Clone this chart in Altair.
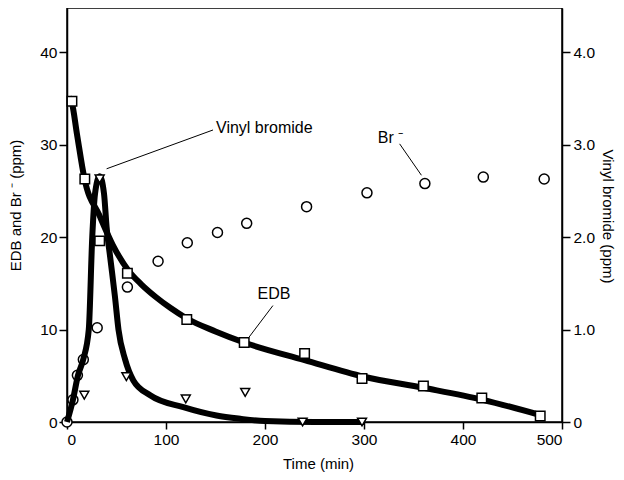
import altair as alt
import pandas as pd

# EDB measured points (ppm, left axis)
EDB_T = [5, 18, 33, 61, 121, 179, 240, 298, 360, 419, 478]
EDB_V = [34.7, 26.3, 19.6, 16.1, 11.1, 8.6, 7.4, 4.7, 3.9, 2.6, 0.65]
# EDB fitted curve
EDB_CURVE_T = [2, 5, 10, 17.5, 33, 46, 62, 75, 90, 105, 121, 150, 179, 240, 300, 360, 420, 478]
EDB_CURVE_V = [35.1, 34.5, 31.2, 26.4, 22.3, 19.2, 16.4, 14.9, 13.5, 12.3, 11.2, 9.8, 8.6, 6.7, 4.9, 3.7, 2.4, 0.75]

# Br- measured points (ppm, left axis)
BR_T = [0, 6, 10.5, 16.5, 30.5, 61, 92, 121.5, 152, 181.5, 242, 303, 361.5, 420.5, 482]
BR_V = [0, 2.4, 5.05, 6.75, 10.2, 14.6, 17.4, 19.4, 20.5, 21.5, 23.3, 24.8, 25.8, 26.5, 26.3]

# Vinyl bromide measured points (ppm, right axis)
VB_T = [17.5, 33, 60, 120, 180, 238, 298]
VB_V = [0.29, 2.63, 0.49, 0.25, 0.32, 0.0, 0.0]
# Vinyl bromide fitted curve
VB_CURVE_T = [0, 6, 11, 16.5, 22, 25.5, 28.3, 33, 37.4, 40, 44, 48.5, 52, 58.6, 67, 84, 117.5, 151, 175, 200, 250, 300]
VB_CURVE_V = [0, 0.24, 0.5, 0.68, 1.0, 2.0, 2.47, 2.66, 2.47, 2.11, 1.75, 1.35, 1.0, 0.68, 0.45, 0.29, 0.16, 0.07, 0.035, 0.01, 0.0, 0.0]

# Annotations (left-axis units)
LABELS = ["Vinyl bromide", "EDB", "Br ⁻"]
LABEL_T = [150.5, 209, 314]
LABEL_V = [31.8, 13.9, 30.7]
LABEL_ALIGN = ["left", "center", "left"]
LEADER_T = [147.5, 208, 336]
LEADER_V = [31.6, 12.6, 30.1]
LEADER_T2 = [40, 184, 358]
LEADER_V2 = [27.4, 9.2, 26.7]

FONT = "Liberation Sans"
XMAX = 500
YMAX = 44.8

edb_pts = pd.DataFrame({"t": EDB_T, "v": EDB_V})
edb_curve = pd.DataFrame({"t": EDB_CURVE_T, "v": EDB_CURVE_V})
br_pts = pd.DataFrame({"t": BR_T, "v": BR_V})
vb_pts = pd.DataFrame({"t": VB_T, "v": VB_V})
vb_curve = pd.DataFrame({"t": VB_CURVE_T, "v": VB_CURVE_V})
labels = pd.DataFrame({"t": LABEL_T, "v": LABEL_V, "txt": LABELS, "al": LABEL_ALIGN})
leaders = pd.DataFrame({"t": LEADER_T, "v": LEADER_V, "t2": LEADER_T2, "v2": LEADER_V2})

X = alt.X("t:Q", scale=alt.Scale(domain=[0, XMAX], nice=False, zero=False),
          axis=alt.Axis(values=[0, 100, 200, 300, 400, 500], title="Time (min)",
                        titleX=251, titleY=41, titleBaseline="middle", titleAlign="center",
                        tickSize=7, labelPadding=3))
YL = alt.Y("v:Q", scale=alt.Scale(domain=[0, YMAX], nice=False),
           axis=alt.Axis(values=[0, 10, 20, 30, 40], title="EDB and Br ⁻ (ppm)", orient="left",
                         titleAngle=-90, titleX=-52, titleY=197, titleBaseline="middle",
                         titleAlign="center", tickSize=8, labelPadding=2))
YR = alt.Y("v:Q", scale=alt.Scale(domain=[0, YMAX / 10], nice=False),
           axis=alt.Axis(values=[0, 1, 2, 3, 4], title="Vinyl bromide (ppm)", orient="right",
                         labelExpr="datum.value == 0 ? '0' : format(datum.value, '.1f')",
                         titleAngle=90, titleX=45, titleY=208, titleBaseline="middle",
                         titleAlign="center", tickSize=8, labelPadding=3))

edb_line = alt.Chart(edb_curve).mark_line(color="black", strokeWidth=6, interpolate="monotone").encode(x=X, y=YL)
edb_mark = alt.Chart(edb_pts).mark_point(shape="square", filled=True, fill="white", stroke="black",
                                         strokeWidth=1.5, size=90, opacity=1).encode(x=X, y=YL)
br_mark = alt.Chart(br_pts).mark_point(shape="circle", filled=True, fill="white", stroke="black",
                                       strokeWidth=1.5, size=100, opacity=1).encode(x=X, y=YL)
lead = alt.Chart(leaders).mark_rule(color="black", strokeWidth=1).encode(
    x=X, y=YL, x2="t2:Q", y2="v2:Q")
txt_left = alt.Chart(labels).transform_filter("datum.al == 'left'").mark_text(
    align="left", baseline="middle", font=FONT, fontSize=16, color="black").encode(x=X, y=YL, text="txt:N")
txt_center = alt.Chart(labels).transform_filter("datum.al == 'center'").mark_text(
    align="center", baseline="middle", font=FONT, fontSize=16, color="black").encode(x=X, y=YL, text="txt:N")

left = alt.layer(edb_line, lead, edb_mark, br_mark, txt_left, txt_center)

vb_line = alt.Chart(vb_curve).mark_line(color="black", strokeWidth=6, interpolate="monotone").encode(x=X, y=YR)
vb_mark = alt.Chart(vb_pts).mark_point(shape="triangle-down", filled=True, fill="white", stroke="black",
                                       strokeWidth=1.5, size=80, opacity=1).encode(x=X, y=YR)
right = alt.layer(vb_line, vb_mark)

chart = alt.layer(left, right).resolve_scale(y="independent").properties(
    width=495, height=414,
    autosize=alt.AutoSizeParams(type="none"),
    padding={"left": 59, "top": 0, "right": 54, "bottom": 50},
).configure_view(stroke="black", strokeWidth=1.5).configure_axis(
    grid=False, domainColor="black", domainWidth=1.5, tickColor="black", tickWidth=1.5,
    labelColor="black", titleColor="black", labelFont=FONT, titleFont=FONT,
    labelFontSize=15.5, titleFontSize=15, titleFontWeight="normal",
)

chart.save("out.html", embed_options={"renderer": "svg", "actions": False})
